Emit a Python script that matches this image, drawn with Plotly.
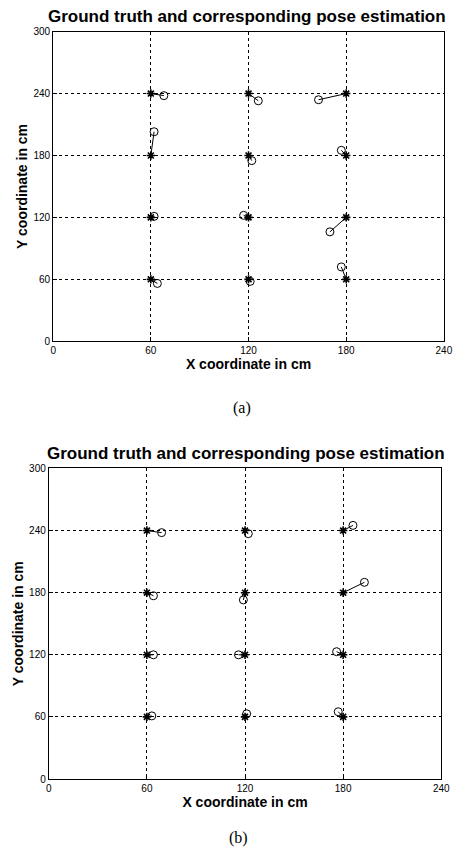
import plotly.graph_objects as go

# Ground-truth grid positions (cm)
gt_x = [60, 120, 180, 60, 120, 180, 60, 120, 180, 60, 120, 180]
gt_y = [240, 240, 240, 180, 180, 180, 120, 120, 120, 60, 60, 60]

# (a) pose estimates
est_a_x = [68, 126, 163, 62, 122, 177, 62, 117, 170, 64, 121, 177]
est_a_y = [238, 233, 234, 203, 175, 185, 121, 122, 106, 56, 58, 72]

# (b) pose estimates
est_b_x = [69, 122, 186, 64, 119, 193, 64, 116, 176, 63, 121, 177]
est_b_y = [238, 237, 245, 177, 173, 190, 120, 120, 123, 61, 63, 65]

x_ticks = [0, 60, 120, 180, 240]
y_ticks = [0, 60, 120, 180, 240, 300]

title_text = "Ground truth and corresponding pose estimation"
x_title = "X coordinate in cm"
y_title = "Y coordinate in cm"
panel_labels = ["(a)", "(b)"]

W, H = 460, 858

fig = go.Figure()

def seg(gx, gy, ex, ey):
    xs, ys = [], []
    for a, b, c, d in zip(gx, gy, ex, ey):
        xs += [a, c, None]
        ys += [b, d, None]
    return xs, ys

for i, (ex, ey) in enumerate([(est_a_x, est_a_y), (est_b_x, est_b_y)]):
    xa = "x" if i == 0 else "x2"
    ya = "y" if i == 0 else "y2"
    sx, sy = seg(gt_x, gt_y, ex, ey)
    fig.add_trace(go.Scatter(x=sx, y=sy, mode="lines", line=dict(color="black", width=1),
                             xaxis=xa, yaxis=ya, showlegend=False, hoverinfo="skip"))
    fig.add_trace(go.Scatter(x=gt_x, y=gt_y, mode="markers",
                             marker=dict(symbol="asterisk-open", size=7, color="black",
                                         line=dict(color="black", width=1.6)),
                             xaxis=xa, yaxis=ya, showlegend=False))
    fig.add_trace(go.Scatter(x=ex, y=ey, mode="markers",
                             marker=dict(symbol="circle-open", size=8, color="black",
                                         line=dict(color="black", width=1)),
                             xaxis=xa, yaxis=ya, showlegend=False))

def px_x(p):
    return p / W

def px_y(p):
    return 1 - p / H

tick_font = dict(family="Liberation Sans, Arial", size=10, color="black")
title_font = dict(family="Liberation Sans, Arial", size=14, color="black")

common_x = dict(range=[0, 240], tickvals=x_ticks, ticks="inside", ticklen=4, tickcolor="black",
                showline=True, mirror=True, linecolor="black", linewidth=1,
                showgrid=True, gridcolor="black", griddash="dot", gridwidth=1,
                zeroline=False, tickfont=tick_font,
                title=dict(text="<b>" + x_title + "</b>", font=title_font, standoff=0))
common_y = dict(range=[0, 300], tickvals=y_ticks, ticks="inside", ticklen=4, tickcolor="black",
                showline=True, mirror=True, linecolor="black", linewidth=1,
                showgrid=True, gridcolor="black", griddash="dot", gridwidth=1,
                zeroline=False, tickfont=tick_font,
                title=dict(text="<b>" + y_title + "</b>", font=title_font, standoff=2))

fig.update_layout(
    width=W, height=H, autosize=False,
    margin=dict(l=0, r=0, t=0, b=0),
    paper_bgcolor="white", plot_bgcolor="white",
    xaxis=dict(domain=[px_x(51.5), px_x(452.7)], anchor="y", **common_x),
    yaxis=dict(domain=[px_y(340), px_y(26)], anchor="x", **common_y),
    xaxis2=dict(domain=[px_x(47), px_x(450)], anchor="y2", **common_x),
    yaxis2=dict(domain=[px_y(784), px_y(469)], anchor="x2", **common_y),
)

annots = [
    dict(text="<b>" + title_text + "</b>", x=px_x(251), y=px_y(11), xref="paper", yref="paper",
         showarrow=False, font=dict(family="Liberation Sans, Arial", size=17, color="black"),
         xanchor="center", yanchor="middle"),
    dict(text="<b>" + title_text + "</b>", x=px_x(249), y=px_y(454), xref="paper", yref="paper",
         showarrow=False, font=dict(family="Liberation Sans, Arial", size=17, color="black"),
         xanchor="center", yanchor="middle"),
    dict(text=panel_labels[0], x=px_x(245), y=px_y(408), xref="paper", yref="paper",
         showarrow=False, font=dict(family="Liberation Serif, Times New Roman", size=16, color="black"),
         xanchor="center", yanchor="middle"),
    dict(text=panel_labels[1], x=px_x(242), y=px_y(844), xref="paper", yref="paper",
         showarrow=False, font=dict(family="Liberation Serif, Times New Roman", size=16, color="black"),
         xanchor="center", yanchor="middle"),
]
fig.update_layout(annotations=annots)

fig.write_html("out.html")
